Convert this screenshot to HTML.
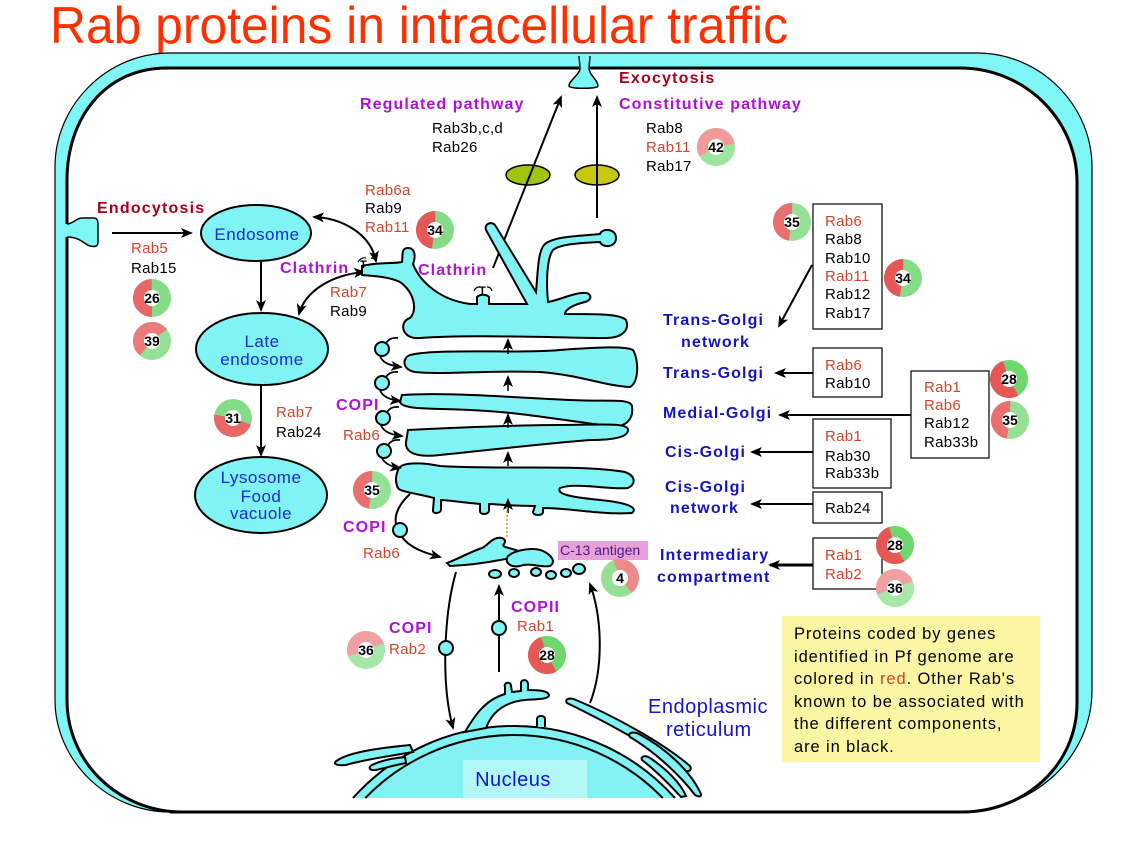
<!DOCTYPE html>
<html><head><meta charset="utf-8"><style>
html,body{margin:0;padding:0;background:#fff;width:1126px;height:845px;overflow:hidden;}
svg{display:block;}
.r{fill:#d2452a;}
.k{fill:#000;}
.t{font-size:15px;letter-spacing:0.3px;}
.bl{fill:#1414c0;font-weight:bold;font-size:16px;letter-spacing:1.1px;}
.mg{fill:#b010d8;font-weight:bold;font-size:16px;letter-spacing:1.1px;}
.dr{fill:#a8001a;font-weight:bold;font-size:16px;letter-spacing:1.2px;}
.org{fill:#1a2ad0;font-size:17px;letter-spacing:0.5px;}
.dn{font-weight:bold;font-size:14px;text-anchor:middle;}
.cy{fill:#80f4f4;stroke:#000;stroke-width:2;}
.ln{fill:none;stroke:#000;stroke-width:2;}
</style></head><body>
<svg width="1126" height="845" viewBox="0 0 1126 845" xmlns="http://www.w3.org/2000/svg" font-family="'Liberation Sans', Arial, sans-serif">
<defs>
<marker id="a" markerUnits="userSpaceOnUse" markerWidth="12" markerHeight="10" refX="10" refY="5" orient="auto-start-reverse" viewBox="0 0 12 10"><path d="M0,0 L12,5 L0,10 L3,5 z" fill="#000"/></marker>
<clipPath id="nc"><rect x="300" y="600" width="460" height="198"/></clipPath>
</defs>

<!-- Title -->
<text x="50" y="43" font-size="52" fill="#ff3000" textLength="738" lengthAdjust="spacingAndGlyphs">Rab proteins in intracellular traffic</text>

<!-- Cell membrane -->
<path d="M170,53 H977 C1040,53 1092,105 1092,167 V690 C1092,760 1030,812 960,812 H170 C107,812 55,760 55,700 V167 C55,105 107,53 170,53 Z" fill="#7ff6f6" stroke="#000" stroke-width="1.2"/>
<path d="M167,68 H960 C1025,68 1077,120 1077,182 V703 C1077,765 1025,812 962,812 H183 C118,812 67,762 67,700 V180 C67,118 105,68 167,68 Z" fill="#fff" stroke="#000" stroke-width="3"/>
<line x1="170" y1="812" x2="962" y2="812" stroke="#000" stroke-width="3"/>

<!-- Exocytosis flask -->
<rect x="579" y="62" width="11" height="10" fill="#7ff6f6"/>
<path d="M579,56 L580,68 C580,75 569,80 569,86 C569,89 598,89 598,86 C598,80 589,75 589,68 L590,56" fill="#7ff6f6" stroke="#000" stroke-width="1.5"/>

<!-- Endocytosis bulb -->
<rect x="64" y="224" width="8" height="13" fill="#7ff6f6"/>
<path d="M67,224 C73,224 76,218 82,218 L94,218 C98,218 98,222 98,226 L98,242 C98,247 94,247 90,246 C84,244 80,237 67,237" fill="#7ff6f6" stroke="#000" stroke-width="1.5"/>

<!-- Top texts -->
<text x="619" y="83" class="dr">Exocytosis</text>
<text x="360" y="109" class="mg">Regulated pathway</text>
<text x="619" y="109" class="mg">Constitutive pathway</text>
<text x="432" y="133" class="t k">Rab3b,c,d</text>
<text x="432" y="152" class="t k">Rab26</text>
<text x="646" y="133" class="t k">Rab8</text>
<text x="646" y="152" class="t r">Rab11</text>
<text x="646" y="171" class="t k">Rab17</text>

<!-- vesicle ellipses and exo arrows -->
<ellipse cx="528" cy="175" rx="22" ry="10" fill="#a2c40c" stroke="#000" stroke-width="1.5"/>
<ellipse cx="597" cy="175" rx="22" ry="10" fill="#c9c80e" stroke="#000" stroke-width="1.5"/>
<line x1="493" y1="268" x2="561" y2="97" class="ln" marker-end="url(#a)"/>
<line x1="597" y1="218" x2="597" y2="97" class="ln" marker-end="url(#a)"/>

<!-- Left endocytic pathway -->
<text x="97" y="213" class="dr">Endocytosis</text>
<line x1="112" y1="233" x2="191" y2="233" class="ln" marker-end="url(#a)"/>
<text x="131" y="253" class="t r">Rab5</text>
<text x="131" y="273" class="t k">Rab15</text>
<ellipse cx="256" cy="233" rx="55" ry="28" class="cy"/>
<text x="257" y="240" class="org" text-anchor="middle">Endosome</text>
<line x1="261" y1="262" x2="261" y2="310" class="ln" marker-end="url(#a)"/>
<ellipse cx="262" cy="349" rx="66" ry="36" class="cy"/>
<text x="262" y="347" class="org" text-anchor="middle">Late</text>
<text x="262" y="365" class="org" text-anchor="middle">endosome</text>
<line x1="261" y1="386" x2="261" y2="455" class="ln" marker-end="url(#a)"/>
<text x="276" y="417" class="t r">Rab7</text>
<text x="276" y="437" class="t k">Rab24</text>
<ellipse cx="261" cy="495" rx="66" ry="38" class="cy"/>
<text x="261" y="483" class="org" text-anchor="middle">Lysosome</text>
<text x="261" y="502" class="org" text-anchor="middle">Food</text>
<text x="261" y="519" class="org" text-anchor="middle">vacuole</text>

<!-- curved arrows endosome <-> golgi -->
<path d="M314,217 C340,218 370,232 376,261" class="ln" marker-start="url(#a)" marker-end="url(#a)"/>
<path d="M364,272 C330,275 305,292 299,314" class="ln" marker-start="url(#a)" marker-end="url(#a)"/>
<text x="365" y="195" class="t r">Rab6a</text>
<text x="365" y="213" class="t k">Rab9</text>
<text x="365" y="232" class="t r">Rab11</text>
<text x="280" y="273" class="mg">Clathrin</text>
<text x="330" y="297" class="t r">Rab7</text>
<text x="330" y="316" class="t k">Rab9</text>
<text x="418" y="275" class="mg">Clathrin</text>

<!-- Golgi TGN -->
<path d="M362,266 C378,262 392,264 402,262 C403,255 401,248 408,248 C415,248 416,256 413,264 C420,282 440,300 470,304 L477,304 L477,297 C480,294 486,294 489,297 L489,304 L527,304 L486,230 C484,224 491,221 495,225 L536,292 C538,270 538,250 545,244 C555,236 580,236 600,234 C602,228 616,228 616,238 C616,248 602,248 600,242 C580,243 560,244 553,250 C547,258 546,280 548,302 C560,300 575,292 586,293 C592,294 592,300 585,302 C572,305 565,310 565,314 C600,314 620,314 626,320 C630,330 622,338 606,338 C560,338 470,334 420,338 C402,340 398,322 410,318 C418,310 414,292 400,282 C390,277 375,276 362,275 Z" class="cy"/>
<!-- T markers -->
<text x="360" y="268" font-size="11" font-weight="bold">T</text>
<path d="M358,262 q3,-5 8,-4 M371,258 q4,0 5,4" fill="none" stroke="#000" stroke-width="1.2"/>
<text x="479" y="294" font-size="11" font-weight="bold">T</text>
<path d="M474,291 q2,-5 7,-4 M487,287 q4,0 5,4" fill="none" stroke="#000" stroke-width="1.2"/>

<!-- cisternae -->
<path d="M410,355 C440,348 520,354 560,350 C600,347 625,346 633,350 C639,360 639,382 630,387 C605,386 580,375 540,372 C490,370 440,375 415,372 C402,370 402,358 410,355 Z" class="cy"/>
<path d="M402,395 C450,392 520,398 570,400 C610,402 630,398 632,406 C634,420 625,428 610,426 C560,420 520,412 470,410 C430,408 403,410 400,402 Z" class="cy"/>
<path d="M408,430 C450,428 520,425 560,425 C600,425 628,422 628,430 C628,438 610,440 590,440 C540,444 490,450 440,455 C415,458 405,452 406,442 Z" class="cy"/>
<path d="M398,470 C400,462 420,462 440,466 C500,470 580,464 625,472 C636,476 636,484 628,488 C610,490 575,482 560,488 C556,494 570,497 600,500 C630,503 638,508 632,513 C600,515 570,508 543,508 L543,512 C543,516 533,516 533,512 L535,506 C510,506 495,504 489,504 L489,511 C488,515 480,515 480,511 L480,504 C460,502 445,500 441,500 L441,510 C440,514 432,514 433,510 L434,498 C420,494 400,492 398,488 C395,482 396,475 398,470 Z" class="cy"/>

<!-- upward arrows in golgi -->
<g stroke="#000" stroke-width="1.5" fill="none">
<line x1="508" y1="354" x2="508" y2="340" marker-end="url(#a)"/>
<line x1="508" y1="391" x2="508" y2="377" marker-end="url(#a)"/>
<line x1="508" y1="428" x2="508" y2="415" marker-end="url(#a)"/>
<line x1="508" y1="466" x2="508" y2="453" marker-end="url(#a)"/>
<line x1="508" y1="513" x2="508" y2="500" marker-end="url(#a)"/>
</g>
<line x1="507" y1="537" x2="507" y2="507" stroke="#b8a040" stroke-width="1.5" stroke-dasharray="2 2"/>

<!-- COPI vesicles left of golgi -->
<g fill="none" stroke="#000" stroke-width="1.8">
<path d="M386,343 Q390,337 398,338"/>
<path d="M380,356 Q383,365 401,367" marker-end="url(#a)"/>
<path d="M386,377 Q390,371 398,372"/>
<path d="M380,390 Q383,399 400,401" marker-end="url(#a)"/>
<path d="M387,412 Q391,406 399,407"/>
<path d="M381,425 Q384,434 402,436" marker-end="url(#a)"/>
<path d="M388,445 Q392,439 400,440"/>
<path d="M382,458 Q386,466 400,468" marker-end="url(#a)"/>
</g>
<circle cx="382" cy="349" r="7" class="cy" stroke-width="1.5"/>
<circle cx="382" cy="383" r="7" class="cy" stroke-width="1.5"/>
<circle cx="383" cy="418" r="7" class="cy" stroke-width="1.5"/>
<circle cx="384" cy="451" r="7" class="cy" stroke-width="1.5"/>
<text x="336" y="410" class="mg">COPI</text>
<text x="343" y="440" class="t r">Rab6</text>

<!-- COPI from cis golgi to IC -->
<path d="M410,494 C400,503 394,514 396,524" class="ln"/>
<path d="M402,537 C410,548 425,553 440,557" class="ln" marker-end="url(#a)"/>
<circle cx="400" cy="530" r="7" class="cy" stroke-width="1.5"/>
<text x="343" y="532" class="mg">COPI</text>
<text x="363" y="558" class="t r">Rab6</text>

<!-- Intermediate compartment -->
<path d="M447,563 C460,558 470,552 482,548 C488,545 490,540 497,538 C503,537 507,540 504,544 C500,548 515,548 520,552 C522,556 512,558 500,560 C490,562 470,565 450,566 Z" class="cy" stroke-width="1.5"/>
<path d="M508,556 C515,550 535,546 545,552 C552,556 556,562 550,566 C540,568 530,562 520,566 C510,568 504,562 508,556 Z" class="cy" stroke-width="1.5"/>
<ellipse cx="495" cy="574" rx="6" ry="4" class="cy" stroke-width="1.5"/>
<ellipse cx="514" cy="573" rx="5" ry="4" class="cy" stroke-width="1.5"/>
<ellipse cx="536" cy="572" rx="5" ry="4" class="cy" stroke-width="1.5"/>
<ellipse cx="551" cy="575" rx="5" ry="4" class="cy" stroke-width="1.5"/>
<ellipse cx="566" cy="573" rx="5" ry="4" class="cy" stroke-width="1.5"/>
<ellipse cx="579" cy="569" rx="6" ry="5" class="cy" stroke-width="1.5"/>
<rect x="558" y="541" width="90" height="19" fill="#e8a0d8"/>
<text x="560" y="555" font-size="14" fill="#4a1a8a">C-13 antigen</text>

<!-- ER to IC arrows -->
<path d="M456,572 C445,610 440,680 453,728" class="ln" marker-end="url(#a)"/>
<circle cx="446" cy="648" r="7" class="cy" stroke-width="1.5"/>
<line x1="499" y1="672" x2="499" y2="586" class="ln" marker-end="url(#a)"/>
<circle cx="499" cy="628" r="7" class="cy" stroke-width="1.5"/>
<path d="M590,703 C603,670 603,620 590,584" class="ln" marker-end="url(#a)"/>
<text x="389" y="633" class="mg">COPI</text>
<text x="389" y="654" class="t r">Rab2</text>
<text x="511" y="612" class="mg">COPII</text>
<text x="517" y="631" class="t r">Rab1</text>

<!-- Nucleus and ER (arc paths, bounded above y=798) -->
<path d="M353,798 A216,216 0 0 1 675,798 Z" fill="#80f4f4"/>
<path d="M353,798 A216,216 0 0 1 675,798" fill="none" stroke="#000" stroke-width="2"/>
<path d="M365.3,798 A207,207 0 0 1 662.7,798 Z" fill="#84f2f2"/>
<path d="M365.3,798 A207,207 0 0 1 662.7,798" fill="none" stroke="#000" stroke-width="2"/>
<g clip-path="url(#nc)">
<path d="M567,703 C564,699 570,697 576,700 C612,715 662,742 690,766 C693,771 687,773 681,769 C650,746 606,722 567,703 Z" class="cy"/>
<path d="M630,737 C627,733 633,731 639,734 C665,748 690,770 701,794 C702,797 698,797 695,795 C680,775 655,752 630,737 Z" class="cy"/>
<path d="M642,760 C640,756 646,755 650,758 C665,768 680,782 686,796 L681,797 C670,785 655,770 642,760 Z" class="cy"/>
<path d="M338,760 C350,752 380,748 410,745 L413,752 C390,756 362,760 346,765 C335,766 332,763 338,760 Z" class="cy"/>
<path d="M372,765 C382,760 395,758 405,757 L406,763 C395,765 385,768 376,770 C369,771 368,767 372,765 Z" class="cy"/>
</g>
<path d="M465,732 C475,715 485,700 505,694 L505,687 C503,682 511,681 511,686 L512,692 L521,691 L521,683 C521,679 528,679 528,684 L528,690 C540,690 548,691 549,695 C549,699 540,699 525,700 C505,702 492,712 486,728 Z" class="cy"/>
<path d="M537,727 L537,719 C537,715 545,715 545,719 L545,727" class="cy"/>
<rect x="463" y="760" width="124" height="38" fill="#b2f8f8"/>
<text x="513" y="786" text-anchor="middle" font-size="20" fill="#1414c8" letter-spacing="0.5">Nucleus</text>
<text x="648" y="713" font-size="20" fill="#1414c8" letter-spacing="0.5">Endoplasmic</text>
<text x="666" y="736" font-size="20" fill="#1414c8" letter-spacing="0.5">reticulum</text>

<!-- Right labels -->
<text x="663" y="325" class="bl">Trans-Golgi</text>
<text x="681" y="347" class="bl">network</text>
<text x="663" y="378" class="bl">Trans-Golgi</text>
<text x="663" y="418" class="bl">Medial-Golgi</text>
<text x="665" y="457" class="bl">Cis-Golgi</text>
<text x="665" y="492" class="bl">Cis-Golgi</text>
<text x="670" y="513" class="bl">network</text>
<text x="660" y="560" class="bl">Intermediary</text>
<text x="657" y="582" class="bl">compartment</text>

<!-- Right boxes -->
<g fill="#fff" stroke="#000" stroke-width="1.2">
<rect x="813" y="204" width="69" height="125"/>
<rect x="813" y="348" width="69" height="49"/>
<rect x="911" y="371" width="78" height="87"/>
<rect x="813" y="419" width="78" height="69"/>
<rect x="813" y="492" width="69" height="31"/>
<rect x="813" y="538" width="69" height="51"/>
</g>
<text x="825" y="226" class="t r">Rab6</text>
<text x="825" y="244" class="t k">Rab8</text>
<text x="825" y="263" class="t k">Rab10</text>
<text x="825" y="281" class="t r">Rab11</text>
<text x="825" y="299" class="t k">Rab12</text>
<text x="825" y="318" class="t k">Rab17</text>
<text x="825" y="370" class="t r">Rab6</text>
<text x="825" y="388" class="t k">Rab10</text>
<text x="924" y="392" class="t r">Rab1</text>
<text x="924" y="410" class="t r">Rab6</text>
<text x="924" y="428" class="t k">Rab12</text>
<text x="924" y="447" class="t k">Rab33b</text>
<text x="825" y="441" class="t r">Rab1</text>
<text x="825" y="461" class="t k">Rab30</text>
<text x="825" y="478" class="t k">Rab33b</text>
<text x="825" y="513" class="t k">Rab24</text>
<text x="825" y="560" class="t r">Rab1</text>
<text x="825" y="579" class="t r">Rab2</text>

<line x1="812" y1="265" x2="779" y2="326" class="ln" marker-end="url(#a)"/>
<line x1="813" y1="373" x2="776" y2="373" class="ln" marker-end="url(#a)"/>
<line x1="911" y1="415" x2="780" y2="415" class="ln" marker-end="url(#a)"/>
<line x1="813" y1="452" x2="752" y2="452" class="ln" marker-end="url(#a)"/>
<line x1="813" y1="504" x2="752" y2="504" class="ln" marker-end="url(#a)"/>
<line x1="813" y1="565" x2="770" y2="565" fill="none" stroke="#000" stroke-width="3" marker-end="url(#a)"/>

<!-- Legend -->
<rect x="782" y="616" width="258" height="146" fill="#fbf6a3"/>
<g font-size="16.5" letter-spacing="0.9" fill="#000">
<text x="794" y="639">Proteins coded by genes</text>
<text x="794" y="662">identified in Pf genome are</text>
<text x="794" y="684">colored in <tspan fill="#d2452a">red</tspan>. Other Rab's</text>
<text x="794" y="707">known to be associated with</text>
<text x="794" y="729">the different components,</text>
<text x="794" y="752">are in black.</text>
</g>

<!-- Donuts -->
<g transform="translate(716,147)"><circle r="13.5" fill="none" stroke="#9ee49e" stroke-width="11"/><circle r="13.5" fill="none" stroke="#f09a9a" stroke-width="11" stroke-dasharray="47 100" transform="rotate(150)"/><circle r="8" fill="#fff"/><text y="5" class="dn">42</text></g>
<g transform="translate(435,230)"><circle r="13.5" fill="none" stroke="#86dc86" stroke-width="11"/><circle r="13.5" fill="none" stroke="#e65858" stroke-width="11" stroke-dasharray="40 100" transform="rotate(100)"/><circle r="8" fill="#fff"/><text y="5" class="dn">34</text></g>
<g transform="translate(152,298)"><circle r="13.5" fill="none" stroke="#86dc86" stroke-width="11"/><circle r="13.5" fill="none" stroke="#e86868" stroke-width="11" stroke-dasharray="42 100" transform="rotate(90)"/><circle r="8" fill="#fff"/><text y="5" class="dn">26</text></g>
<g transform="translate(152,341)"><circle r="13.5" fill="none" stroke="#96e096" stroke-width="11"/><circle r="13.5" fill="none" stroke="#ec7a7a" stroke-width="11" stroke-dasharray="45 100" transform="rotate(130)"/><circle r="8" fill="#fff"/><text y="5" class="dn">39</text></g>
<g transform="translate(233,418)"><circle r="13.5" fill="none" stroke="#86dc86" stroke-width="11"/><circle r="13.5" fill="none" stroke="#e86868" stroke-width="11" stroke-dasharray="40 100" transform="rotate(20)"/><circle r="8" fill="#fff"/><text y="5" class="dn">31</text></g>
<g transform="translate(372,490)"><circle r="13.5" fill="none" stroke="#96e096" stroke-width="11"/><circle r="13.5" fill="none" stroke="#ea7070" stroke-width="11" stroke-dasharray="40 100" transform="rotate(100)"/><circle r="8" fill="#fff"/><text y="5" class="dn">35</text></g>
<g transform="translate(792,222)"><circle r="13.5" fill="none" stroke="#96e096" stroke-width="11"/><circle r="13.5" fill="none" stroke="#ea7070" stroke-width="11" stroke-dasharray="40 100" transform="rotate(100)"/><circle r="8" fill="#fff"/><text y="5" class="dn">35</text></g>
<g transform="translate(903,278)"><circle r="13.5" fill="none" stroke="#86dc86" stroke-width="11"/><circle r="13.5" fill="none" stroke="#e65858" stroke-width="11" stroke-dasharray="40 100" transform="rotate(100)"/><circle r="8" fill="#fff"/><text y="5" class="dn">34</text></g>
<g transform="translate(1009,379)"><circle r="13.5" fill="none" stroke="#6ed86e" stroke-width="11"/><circle r="13.5" fill="none" stroke="#e65858" stroke-width="11" stroke-dasharray="45 100" transform="rotate(60)"/><circle r="8" fill="#fff"/><text y="5" class="dn">28</text></g>
<g transform="translate(1010,420)"><circle r="13.5" fill="none" stroke="#96e096" stroke-width="11"/><circle r="13.5" fill="none" stroke="#ea7070" stroke-width="11" stroke-dasharray="40 100" transform="rotate(100)"/><circle r="8" fill="#fff"/><text y="5" class="dn">35</text></g>
<g transform="translate(895,545)"><circle r="13.5" fill="none" stroke="#6ed86e" stroke-width="11"/><circle r="13.5" fill="none" stroke="#e65858" stroke-width="11" stroke-dasharray="45 100" transform="rotate(60)"/><circle r="8" fill="#fff"/><text y="5" class="dn">28</text></g>
<g transform="translate(895,588)"><circle r="13.5" fill="none" stroke="#a6e6a6" stroke-width="11"/><circle r="13.5" fill="none" stroke="#f0a0a0" stroke-width="11" stroke-dasharray="42 100" transform="rotate(160)"/><circle r="8" fill="#fff"/><text y="5" class="dn">36</text></g>
<g transform="translate(620,578)"><circle r="13.5" fill="none" stroke="#96e096" stroke-width="11"/><circle r="13.5" fill="none" stroke="#ee8a8a" stroke-width="11" stroke-dasharray="38 100" transform="rotate(250)"/><circle r="8" fill="#fff"/><text y="5" class="dn">4</text></g>
<g transform="translate(366,650)"><circle r="13.5" fill="none" stroke="#a6e6a6" stroke-width="11"/><circle r="13.5" fill="none" stroke="#f0a0a0" stroke-width="11" stroke-dasharray="42 100" transform="rotate(160)"/><circle r="8" fill="#fff"/><text y="5" class="dn">36</text></g>
<g transform="translate(547,655)"><circle r="13.5" fill="none" stroke="#6ed86e" stroke-width="11"/><circle r="13.5" fill="none" stroke="#e65858" stroke-width="11" stroke-dasharray="45 100" transform="rotate(60)"/><circle r="8" fill="#fff"/><text y="5" class="dn">28</text></g>
</svg>
</body></html>
